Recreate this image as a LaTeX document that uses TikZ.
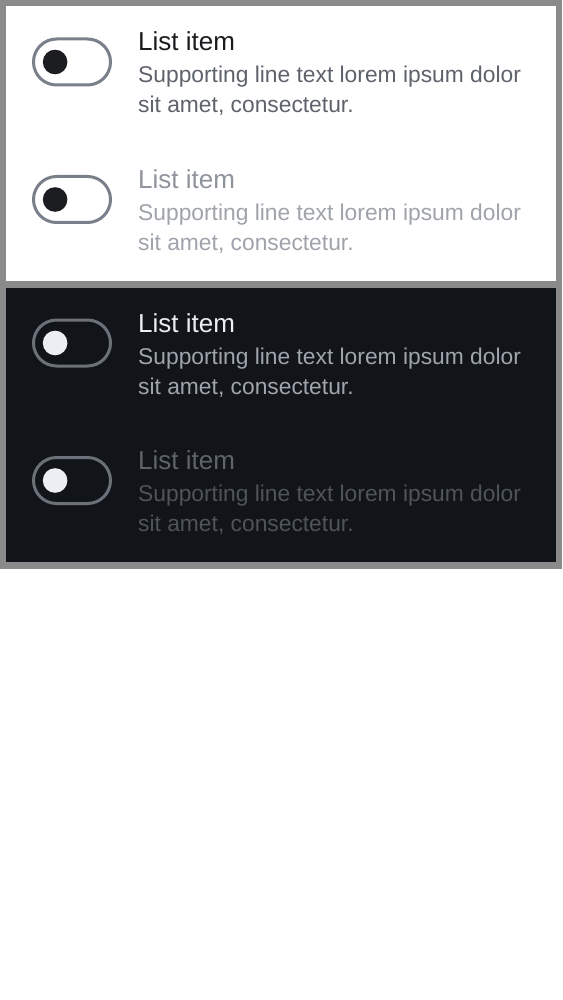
\documentclass[tikz,border=0pt]{standalone}
\usepackage{fontspec}
\setmainfont{Liberation Sans}
\usepackage{xcolor}
\usetikzlibrary{positioning}

\definecolor{framegray}{HTML}{8A8A8A}
\definecolor{nightbg}{HTML}{111418}
\definecolor{lighttitle}{HTML}{1B1C1F}
\definecolor{lighttext}{HTML}{5E636B}
\definecolor{lightoff}{HTML}{8F949C}
\definecolor{lightofftext}{HTML}{9FA3AA}
\definecolor{lighttrack}{HTML}{7A808A}
\definecolor{lightknob}{HTML}{1C1D21}
\definecolor{darktitle}{HTML}{ECEEF2}
\definecolor{darktext}{HTML}{A0A5AD}
\definecolor{darkoff}{HTML}{5F636A}
\definecolor{darkofftext}{HTML}{4F535A}
\definecolor{darktrack}{HTML}{6C7078}
\definecolor{darkknob}{HTML}{ECEEF3}

\begin{document}
\begin{tikzpicture}[x=1pt, y=-1pt,
    track/.style={rectangle, draw=#1, line width=3pt, rounded corners=23pt, minimum width=77pt, minimum height=46pt, inner sep=0pt},
    knob/.style={circle, fill=#1, minimum size=24.6pt, inner sep=0pt},
    itemtitle/.style={anchor=base west, inner sep=0pt, font=\fontsize{26}{30}\selectfont},
    itemtext/.style={inner sep=0pt, font=\fontsize{22.8}{30}\selectfont}]

    \useasboundingbox (0,0) rectangle (562,1000);

    % Frame and panels
    \fill[framegray] (0,0) rectangle (562,568.5);
    \fill[white] (6,6) rectangle (556,281);
    \fill[nightbg] (6,287.5) rectangle (556,562);

    % Light, enabled
    \node[track=lighttrack] (sw1) at (72,62) {};
    \node[knob=lightknob] (knob1) at ([xshift=23.1pt]sw1.west) {};
    \node[itemtitle, text=lighttitle] (title1) at (138,51) {List item};
    \node[itemtext, text=lighttext, below=32pt of title1.base west, anchor=base west] (line1a) {Supporting line text lorem ipsum dolor};
    \node[itemtext, text=lighttext, below=30pt of line1a.base west, anchor=base west] (line1b) {sit amet, consectetur.};

    % Light, disabled
    \node[track=lighttrack] (sw2) at (72,199.5) {};
    \node[knob=lightknob] (knob2) at ([xshift=23.1pt]sw2.west) {};
    \node[itemtitle, text=lightoff] (title2) at (138,188.5) {List item};
    \node[itemtext, text=lightofftext, below=32pt of title2.base west, anchor=base west] (line2a) {Supporting line text lorem ipsum dolor};
    \node[itemtext, text=lightofftext, below=30pt of line2a.base west, anchor=base west] (line2b) {sit amet, consectetur.};

    % Dark, enabled
    \node[track=darktrack] (sw3) at (72,343) {};
    \node[knob=darkknob] (knob3) at ([xshift=23.1pt]sw3.west) {};
    \node[itemtitle, text=darktitle] (title3) at (138,332) {List item};
    \node[itemtext, text=darktext, below=32pt of title3.base west, anchor=base west] (line3a) {Supporting line text lorem ipsum dolor};
    \node[itemtext, text=darktext, below=30pt of line3a.base west, anchor=base west] (line3b) {sit amet, consectetur.};

    % Dark, disabled
    \node[track=darktrack] (sw4) at (72,480.5) {};
    \node[knob=darkknob] (knob4) at ([xshift=23.1pt]sw4.west) {};
    \node[itemtitle, text=darkoff] (title4) at (138,469.5) {List item};
    \node[itemtext, text=darkofftext, below=32pt of title4.base west, anchor=base west] (line4a) {Supporting line text lorem ipsum dolor};
    \node[itemtext, text=darkofftext, below=30pt of line4a.base west, anchor=base west] (line4b) {sit amet, consectetur.};

\end{tikzpicture}
\end{document}
